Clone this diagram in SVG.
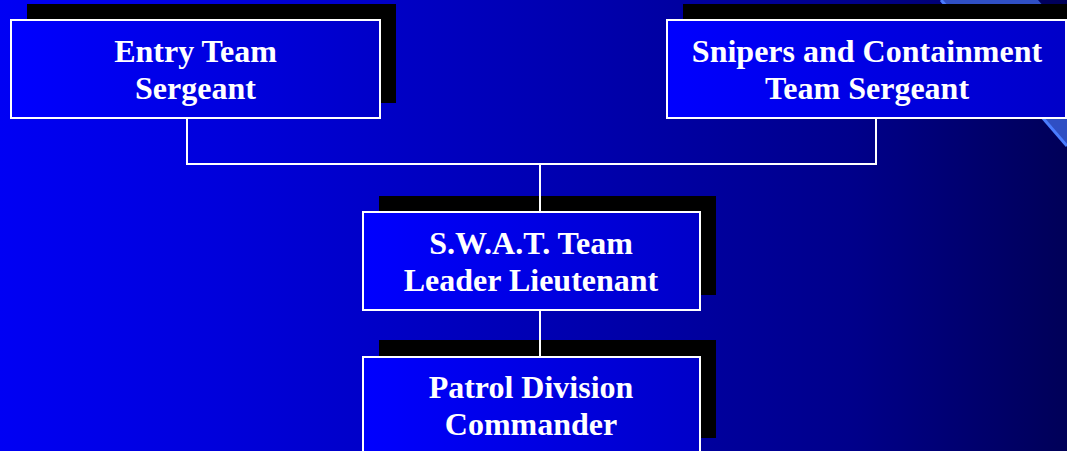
<svg xmlns="http://www.w3.org/2000/svg" width="1067" height="451" viewBox="0 0 1067 451">
<defs>
<linearGradient id="bg" x1="0" y1="0" x2="1" y2="0">
<stop offset="0" stop-color="#0000f4"/>
<stop offset="0.2" stop-color="#0000dc"/>
<stop offset="0.5" stop-color="#0000b4"/>
<stop offset="0.8" stop-color="#00008a"/>
<stop offset="1" stop-color="#000058"/>
</linearGradient>
<linearGradient id="box" x1="0" y1="0" x2="1" y2="0">
<stop offset="0" stop-color="#0000ff"/>
<stop offset="1" stop-color="#0000c8"/>
</linearGradient>
<style>
.shadow{fill:#000}
.box{fill:url(#box);stroke:#fff;stroke-width:2}
.lbl{font-family:"Liberation Serif","Times New Roman",serif;font-weight:bold;font-size:32px;fill:#fff;text-anchor:middle}
.conn{fill:none;stroke:#fff;stroke-width:2}
</style>
</defs>
<rect width="1067" height="451" fill="url(#bg)"/>
<polygon points="941,0 1038,0 1067,33 1067,146" fill="#2f4fc4"/>
<line x1="941" y1="0" x2="1067" y2="146" stroke="#4a7cff" stroke-width="3"/>
<g id="node-entry">
<rect class="shadow" x="27" y="4" width="369" height="99"/>
<rect class="box" x="11" y="20" width="369" height="98"/>
<text class="lbl" x="195.5" y="62">Entry Team</text>
<text class="lbl" x="195.5" y="99">Sergeant</text>
</g>
<g id="node-snipers">
<rect class="shadow" x="683" y="4" width="400" height="99"/>
<rect class="box" x="667" y="20" width="399" height="98"/>
<text class="lbl" x="867" y="62">Snipers and Containment</text>
<text class="lbl" x="867" y="99">Team Sergeant</text>
</g>
<g id="node-swat">
<rect class="shadow" x="379" y="196" width="337" height="99"/>
<rect class="box" x="363" y="212" width="337" height="98"/>
<text class="lbl" x="531" y="254">S.W.A.T. Team</text>
<text class="lbl" x="531" y="291">Leader Lieutenant</text>
</g>
<g id="node-patrol">
<rect class="shadow" x="379" y="340" width="337" height="98"/>
<rect class="box" x="363" y="357" width="337" height="110"/>
<text class="lbl" x="531" y="398">Patrol Division</text>
<text class="lbl" x="531" y="435">Commander</text>
</g>
<g id="connectors">
<path class="conn" d="M187,119 V164 H876 V119"/>
<path class="conn" d="M540,164 V211"/>
<path class="conn" d="M540,311 V356"/>
</g>
</svg>
